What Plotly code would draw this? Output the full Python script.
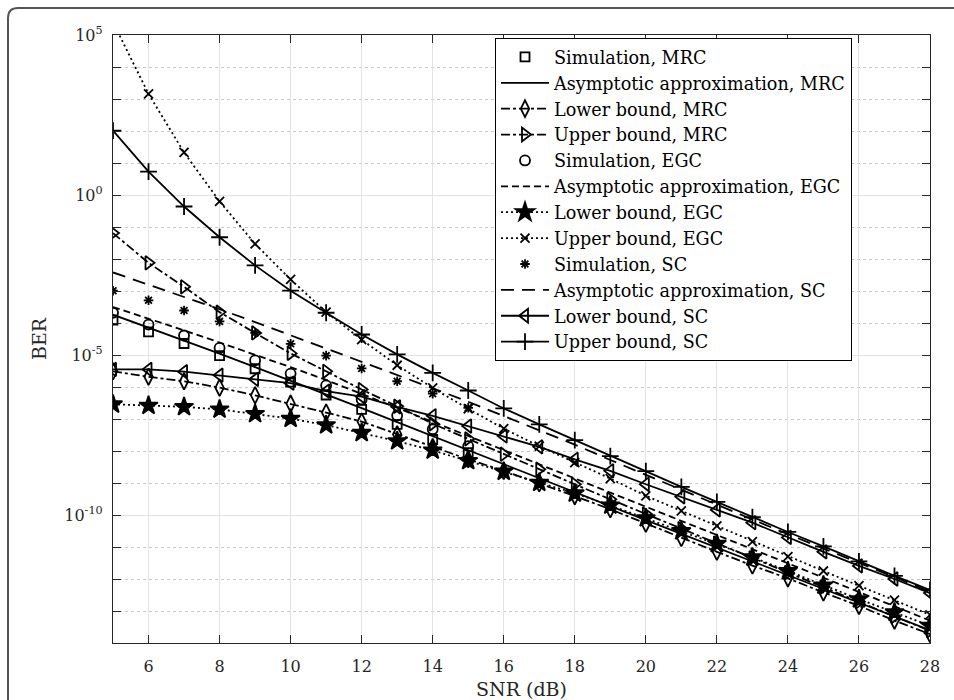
import plotly.graph_objects as go

# ---------------- data (log10 of BER) ----------------
snr = list(range(5, 29))          # SNR (dB) for analytic curves
snr_sim = list(range(5, 16))      # SNR (dB) for simulation points

sim_mrc = [-3.91, -4.28, -4.64, -5.02, -5.43, -5.85, -6.25, -6.70, -7.17, -7.64, -8.05]
asym_mrc = [-3.74, -4.14, -4.55, -4.96, -5.38, -5.80, -6.23, -6.66, -7.10, -7.54, -7.98, -8.42,
            -8.86, -9.30, -9.73, -10.16, -10.59, -11.02, -11.45, -11.88, -12.31, -12.74, -13.17, -13.60]
lower_mrc = [-5.51, -5.68, -5.82, -6.02, -6.26, -6.52, -6.80, -7.08, -7.48, -7.88, -8.26, -8.62,
             -9.01, -9.41, -9.82, -10.27, -10.72, -11.15, -11.58, -11.98, -12.42, -12.84, -13.30, -13.72]
upper_mrc = [-1.19, -2.12, -2.87, -3.66, -4.31, -4.95, -5.51, -6.08, -6.60, -7.15, -7.62, -8.10,
             -8.57, -9.04, -9.51, -9.97, -10.43, -10.88, -11.34, -11.80, -12.25, -12.71, -13.17, -13.62]

sim_egc = [-3.68, -4.05, -4.39, -4.78, -5.17, -5.58, -5.95, -6.39, -6.89, -7.32, -7.85]
asym_egc = [-3.50, -3.86, -4.23, -4.61, -4.99, -5.38, -5.78, -6.21, -6.65, -7.09, -7.53, -7.97,
            -8.42, -8.86, -9.30, -9.74, -10.19, -10.63, -11.07, -11.51, -11.96, -12.40, -12.85, -13.30]
lower_egc = [-6.54, -6.58, -6.62, -6.70, -6.84, -6.99, -7.19, -7.43, -7.69, -7.98, -8.31, -8.64,
             -8.99, -9.32, -9.70, -10.10, -10.50, -10.90, -11.32, -11.75, -12.20, -12.63, -13.04, -13.46]
upper_egc = [5.40, 3.16, 1.33, -0.20, -1.53, -2.64, -3.66, -4.52, -5.32, -6.03, -6.68, -7.30,
             -7.85, -8.36, -8.86, -9.40, -9.87, -10.34, -10.83, -11.30, -11.75, -12.21, -12.66, -13.12]

sim_sc = [-2.99, -3.29, -3.61, -3.95, -4.31, -4.65, -5.02, -5.42, -5.82, -6.21, -6.65]
asym_sc = [-2.42, -2.80, -3.18, -3.57, -3.97, -4.38, -4.79, -5.20, -5.62, -6.04, -6.46, -6.90,
           -7.35, -7.80, -8.28, -8.75, -9.21, -9.68, -10.14, -10.60, -11.05, -11.50, -11.95, -12.39]
lower_sc = [-5.45, -5.45, -5.52, -5.63, -5.76, -5.88, -6.13, -6.30, -6.62, -6.90, -7.22, -7.53,
            -7.87, -8.26, -8.62, -9.04, -9.43, -9.84, -10.24, -10.70, -11.15, -11.59, -12.00, -12.44]
upper_sc = [2.01, 0.73, -0.36, -1.32, -2.20, -2.99, -3.68, -4.36, -4.98, -5.56, -6.11, -6.67,
            -7.17, -7.66, -8.16, -8.63, -9.12, -9.59, -10.07, -10.53, -10.98, -11.45, -11.90, -12.34]

x_ticks = list(range(6, 29, 2))
y_major = [1e-10, 1e-5, 1e0, 1e5]
y_major_text = ["10<sup>-10</sup>", "10<sup>-5</sup>", "10<sup>0</sup>", "10<sup>5</sup>"]
y_minor = [10.0 ** k for k in range(-14, 6) if k % 5 != 0]
x_title = "SNR (dB)"
y_title = "BER"

# ---------------- figure ----------------
FONT = "DejaVu Serif"
BLACK = "#000000"
AX = "#262626"
LW = 1.8


def pw(v):
    return [10.0 ** e for e in v]


series = [
    ("Simulation, MRC", snr_sim, sim_mrc, "markers", None, "square-open", 9),
    ("Asymptotic approximation, MRC", snr, asym_mrc, "lines", "solid", None, 0),
    ("Lower bound, MRC", snr, lower_mrc, "lines+markers", "dashdot", "diamond-tall-open", 12),
    ("Upper bound, MRC", snr, upper_mrc, "lines+markers", "dashdot", "triangle-right-open", 12),
    ("Simulation, EGC", snr_sim, sim_egc, "markers", None, "circle-open", 10),
    ("Asymptotic approximation, EGC", snr, asym_egc, "lines", "7px,4px", None, 0),
    ("Lower bound, EGC", snr, lower_egc, "lines+markers", "2px,3px", "star", 14),
    ("Upper bound, EGC", snr, upper_egc, "lines+markers", "2px,3px", "x-thin-open", 9),
    ("Simulation, SC", snr_sim, sim_sc, "markers", None, "asterisk-open", 8),
    ("Asymptotic approximation, SC", snr, asym_sc, "lines", "13px,8px", None, 0),
    ("Lower bound, SC", snr, lower_sc, "lines+markers", "solid", "triangle-left-open", 12),
    ("Upper bound, SC", snr, upper_sc, "lines+markers", "solid", "cross-thin-open", 12),
]

fig = go.Figure()
for name, xs, ys, mode, dash, sym, size in series:
    kw = dict(x=xs, y=pw(ys), name=name, mode=mode)
    if "lines" in mode:
        kw["line"] = dict(color=BLACK, width=LW, dash=dash)
    if "markers" in mode:
        kw["marker"] = dict(symbol=sym, size=size, color=BLACK,
                            line=dict(color=BLACK, width=LW))
    fig.add_trace(go.Scatter(**kw))

common = dict(
    automargin=False,
    showline=True, linecolor=AX, linewidth=1.3, mirror="allticks",
    ticks="inside", ticklen=8, tickwidth=1.3, tickcolor=AX,
    showgrid=True, gridcolor="#e3e3e3", gridwidth=1.2, zeroline=False,
    tickfont=dict(family=FONT, size=16, color=AX),
)

fig.update_xaxes(
    range=[5, 28], tickmode="array", tickvals=x_ticks, ticklabelstandoff=9,
    **common,
)
fig.update_yaxes(
    type="log", range=[-14, 5], tickmode="array", tickvals=y_major, ticktext=y_major_text,
    minor=dict(tickmode="array", tickvals=y_minor, ticks="inside", ticklen=8, tickwidth=1.3,
               tickcolor=AX, showgrid=True, gridcolor="#c8c8c8", gridwidth=1,
               griddash="dot"),
    ticklabelstandoff=6,
    title=dict(text=y_title, font=dict(family=FONT, size=19, color=AX), standoff=12),
    **common,
)

L, T, R, B = 113, 35, 930, 643


def px(xp):
    return (xp - L) / (R - L)


def py(yp):
    return (B - yp) / (B - T)


# x-axis title placed as paper text so it sits where the original has it
fig.add_annotation(text=x_title, xref="paper", yref="paper", x=0.5, y=py(689),
                   xanchor="center", yanchor="middle", showarrow=False,
                   font=dict(family=FONT, size=19, color=AX))

# outer frame: left and top edges only (the rest lies outside the picture)
fig.add_shape(type="line", xref="paper", yref="paper",
              x0=px(8), y0=py(18), x1=px(8), y1=py(700),
              line=dict(color="#555555", width=2))
fig.add_shape(type="line", xref="paper", yref="paper",
              x0=px(18), y0=py(8), x1=px(954), y1=py(8),
              line=dict(color="#555555", width=2))
fig.add_shape(type="path", xref="paper", yref="paper",
              path=f"M{px(8)},{py(18)} Q{px(8)},{py(8)} {px(18)},{py(8)}",
              line=dict(color="#555555", width=2))

fig.update_layout(
    width=954, height=700,
    margin=dict(l=L, r=954 - R, t=T, b=700 - B, autoexpand=False),
    paper_bgcolor="white", plot_bgcolor="white",
    font=dict(family=FONT, size=18, color=BLACK),
    showlegend=True,
    legend=dict(
        x=px(495), y=py(38), xanchor="left", yanchor="top",
        bgcolor="white", bordercolor=BLACK, borderwidth=1,
        font=dict(family=FONT, size=17.6, color=BLACK),
        itemwidth=48, tracegroupgap=0, traceorder="normal",
    ),
)

fig.write_html("out.html", config={"displayModeBar": False},
               post_script="document.body.style.margin='0';document.body.style.overflow='hidden';")
